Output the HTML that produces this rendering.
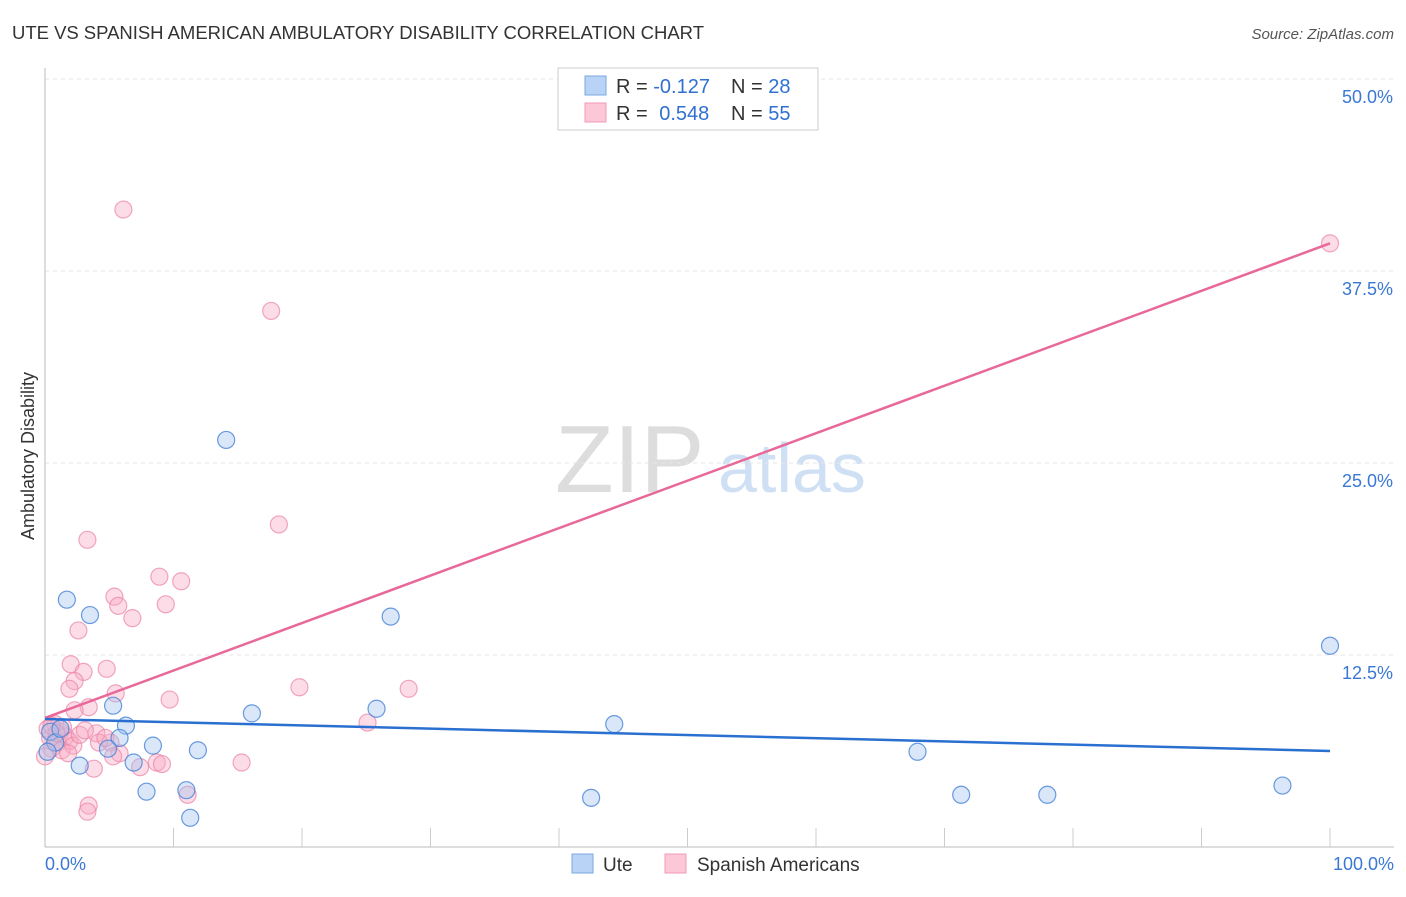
<!DOCTYPE html>
<html><head><meta charset="utf-8"><style>
body{margin:0;background:#fff;font-family:"Liberation Sans",sans-serif}
svg text{font-family:"Liberation Sans",sans-serif}
</style></head><body>
<svg id="c" width="1406" height="892" viewBox="0 0 1406 892">
<text x="12" y="39" font-size="18.5" fill="#333" textLength="692">UTE VS SPANISH AMERICAN AMBULATORY DISABILITY CORRELATION CHART</text>
<text x="1394" y="39" font-size="15" fill="#555" font-style="italic" text-anchor="end">Source: ZipAtlas.com</text>
<text x="555" y="492" font-size="96" fill="#ddd" font-family="Liberation Serif">ZIP</text>
<text x="718" y="492" font-size="70" fill="#cfe0f5">atlas</text>
<text x="34" y="456" font-size="18" fill="#333" transform="rotate(-90 34 456)" text-anchor="middle">Ambulatory Disability</text>
<g id="grid"></g><g id="pts"></g><g id="lines"></g>
<g>
<rect x="558" y="68" width="260" height="62" fill="#fff" stroke="#ccc"/>
<rect x="585" y="76" width="21" height="19" fill="#b8d3f5" stroke="#7aa8e0"/>
<rect x="585" y="103" width="21" height="19" fill="#fcc8d7" stroke="#f09ab5"/>
<text x="616" y="93" font-size="20" fill="#333">R = <tspan fill="#3070d0">-0.127</tspan><tspan x="731">N = </tspan><tspan fill="#3070d0">28</tspan></text>
<text x="616" y="120" font-size="20" fill="#333">R = <tspan fill="#3070d0" dx="6">0.548</tspan><tspan x="731">N = </tspan><tspan fill="#3070d0">55</tspan></text>
</g>
<g>
<rect x="572" y="854" width="21" height="19" fill="#b8d3f5" stroke="#7aa8e0"/>
<text x="603" y="871" font-size="19" fill="#333">Ute</text>
<rect x="665" y="854" width="21" height="19" fill="#fcc8d7" stroke="#f09ab5"/>
<text x="697" y="871" font-size="19" fill="#333">Spanish Americans</text>
</g>
</svg>
<script>
const yTicks=[12.5,25,37.5,50];
const yTickLabels=["12.5%","25.0%","37.5%","50.0%"];
const xTickLabels=["0.0%","100.0%"];
const uteX=[1.7,3.5,14.1,26.9,100,5.3,6.3,16.1,25.8,44.3,5.8,8.4,4.9,11.9,67.9,2.7,6.9,7.9,11,11.3,42.5,71.3,78,96.3,0.4,0.8,0.2,1.2];
const uteY=[16.1,15.1,26.5,15,13.1,9.2,7.9,8.7,9,8,7.1,6.6,6.4,6.3,6.2,5.3,5.5,3.6,3.7,1.9,3.2,3.4,3.4,4,7.5,6.8,6.2,7.7];
const spaX=[6.1,17.6,100,18.2,3.3,8.9,10.6,5.4,5.7,9.4,6.8,2.6,2,4.8,3,2.3,1.9,5.5,9.7,19.8,28.3,3.4,2.3,25.1,0.8,1.2,4,5.1,5.8,8.7,7.4,15.3,3.8,11.1,3.4,3.3,0.4,0.5,1,1.6,1.9,0.2,1.3,2.2,4.2,2.7,4.7,1.4,0.9,1.8,5.3,9.1,0,3.1,0.5];
const spaY=[41.5,34.9,39.3,21,20,17.6,17.3,16.3,15.7,15.8,14.9,14.1,11.9,11.6,11.4,10.8,10.3,10,9.6,10.4,10.3,9.1,8.9,8.1,8,7.5,7.4,6.8,6.1,5.5,5.2,5.5,5.1,3.4,2.7,2.3,7.1,6.4,6.8,7.2,6.9,7.7,6.3,6.6,6.8,7.3,7.1,7.8,7.4,6.1,5.9,5.4,5.9,7.6,7.9];
const uteTrend=[8.33,6.25];
const spaTrend=[8.4,39.3];
const NS="http://www.w3.org/2000/svg";
const X=v=>45+v/100*1285, Y=v=>847-v/50*768;
function mk(p,t,a){const e=document.createElementNS(NS,t);for(const k in a)e.setAttribute(k,a[k]);p.appendChild(e);return e;}
const g=document.getElementById('grid'),svg=document.getElementById('c');
yTicks.forEach((t,i)=>{
 const l=mk(g,'line',{x1:45,x2:1394,y1:Y(t),y2:Y(t),stroke:'#e6e6e6','stroke-dasharray':'4,4'});
 
 
 const tx=mk(g,'text',{x:1393,y:Y(t)+24,'font-size':18,fill:'#3a78d4','text-anchor':'end'});tx.textContent=yTickLabels[i];
 
 
});
mk(g,'line',{x1:45,x2:45,y1:68,y2:847,stroke:'#bbb'});
mk(g,'line',{x1:45,x2:1394,y1:847,y2:847,stroke:'#bbb'});
for(let i=1;i<=10;i++){const xx=45+i*128.5;mk(g,'line',{x1:xx,x2:xx,y1:828,y2:847,stroke:'#ccc'});}
[[0,'start',45],[1,'end',1394]].forEach(([i,a,x])=>{const t=mk(g,'text',{x:x,y:870,'font-size':18,fill:'#3a78d4','text-anchor':a});t.textContent=xTickLabels[i];
 
 });
const P=document.getElementById('pts');
spaX.forEach((v,i)=>{const c=mk(P,'circle',{cx:X(v),cy:Y(spaY[i]),r:8.5,fill:'rgba(248,170,195,0.4)',stroke:'rgba(235,130,165,0.7)','stroke-width':1.2});
 
 });
uteX.forEach((v,i)=>{const c=mk(P,'circle',{cx:X(v),cy:Y(uteY[i]),r:8.5,fill:'rgba(160,195,240,0.4)',stroke:'rgba(70,130,215,0.8)','stroke-width':1.2});
 
 });
const L=document.getElementById('lines');
const l1=mk(L,'line',{x1:X(0),x2:X(100),y1:Y(spaTrend[0]),y2:Y(spaTrend[1]),stroke:'#e8689a','stroke-width':2.5});


const l2=mk(L,'line',{x1:X(0),x2:X(100),y1:Y(uteTrend[0]),y2:Y(uteTrend[1]),stroke:'#2a70d0','stroke-width':2.5});


</script>
</body></html>
